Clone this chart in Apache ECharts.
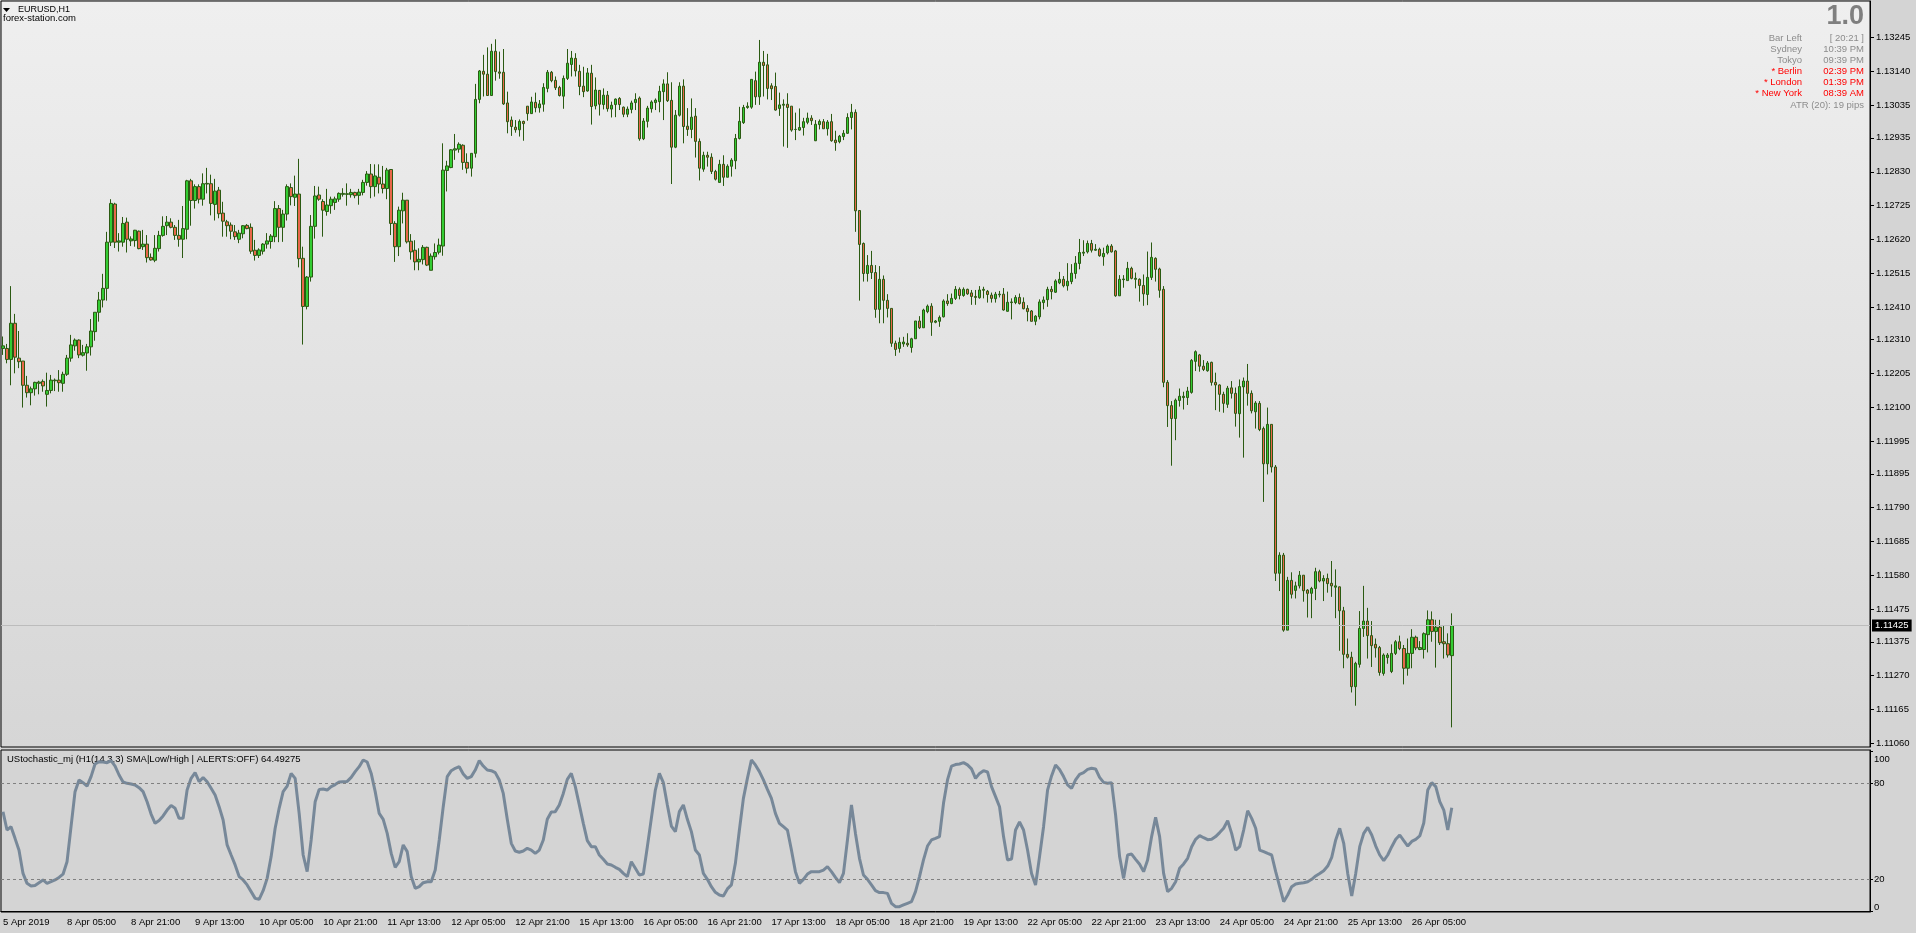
<!DOCTYPE html>
<html>
<head>
<meta charset="utf-8">
<title>EURUSD,H1</title>
<script src="https://cdn.jsdelivr.net/npm/echarts@6/dist/echarts.min.js"></script>
<style>
  html, body { margin: 0; padding: 0; background: #d4d4d4; }
  #chart { width: 1916px; height: 933px; }
</style>
</head>
<body>
<div id="chart"></div>
<script>
  // EURUSD H1 bars, 5 Apr 2019 13:00 .. 26 Apr 2019 15:00 (broker time)
  var opens = [
    1.12283,1.12283,1.12249,1.12361,1.12253,1.12244,1.12169,1.12146,1.12158,1.12175,
    1.12181,1.12141,1.12153,1.12183,1.12185,1.12175,1.12203,1.12253,1.12291,1.12309,
    1.12262,1.12269,1.12288,1.12335,1.12395,1.12433,1.12469,1.12612,1.12730,1.12612,
    1.12612,1.12674,1.12616,1.12617,1.12646,1.12598,1.12606,1.12565,1.12556,1.12592,
    1.12633,1.12663,1.12674,1.12658,1.12633,1.12621,1.12652,1.12802,1.12741,1.12784,
    1.12745,1.12792,1.12793,1.12729,1.12773,1.12702,1.12675,1.12665,1.12644,1.12621,
    1.12638,1.12664,1.12658,1.12587,1.12571,1.12584,1.12606,1.12614,1.12629,1.12716,
    1.12658,1.12699,1.12781,1.12751,1.12761,1.12562,1.12413,1.12504,1.12661,1.12758,
    1.12738,1.12707,1.12725,1.12735,1.12745,1.12760,1.12760,1.12759,1.12766,1.12757,
    1.12766,1.12797,1.12823,1.12784,1.12813,1.12792,1.12778,1.12837,1.12670,1.12598,
    1.12709,1.12742,1.12615,1.12587,1.12551,1.12558,1.12596,1.12525,1.12567,1.12581,
    1.12600,1.12834,1.12843,1.12897,1.12900,1.12912,1.12859,1.12841,1.12887,1.13054,
    1.13141,1.13132,1.13066,1.13203,1.13139,1.13138,1.13043,1.12990,1.12968,1.12960,
    1.12986,1.13033,1.13010,1.13045,1.13028,1.13039,1.13088,1.13138,1.13113,1.13091,
    1.13064,1.13119,1.13162,1.13181,1.13141,1.13095,1.13080,1.13135,1.13034,1.13082,
    1.13038,1.13067,1.13024,1.13038,1.13057,1.13030,1.13008,1.13023,1.13044,1.13058,
    1.12932,1.12986,1.13025,1.13044,1.13047,1.13078,1.13102,1.13051,1.12906,1.13005,
    1.13095,1.12971,1.12961,1.13002,1.12924,1.12838,1.12881,1.12875,1.12831,1.12797,
    1.12853,1.12813,1.12847,1.12864,1.12933,1.12982,1.13029,1.13030,1.13112,1.13062,
    1.13169,1.13161,1.13096,1.13094,1.13026,1.13036,1.13039,1.13033,1.12961,1.12959,
    1.12967,1.12983,1.12996,1.12926,1.12976,1.12985,1.12963,1.12985,1.12928,1.12923,
    1.12939,1.12949,1.12998,1.13014,1.12710,1.12608,1.12515,1.12540,1.12518,1.12404,
    1.12497,1.12432,1.12407,1.12299,1.12283,1.12297,1.12299,1.12286,1.12313,1.12368,
    1.12347,1.12397,1.12414,1.12364,1.12367,1.12381,1.12430,1.12422,1.12438,1.12466,
    1.12447,1.12466,1.12455,1.12444,1.12440,1.12463,1.12460,1.12448,1.12437,1.12449,
    1.12451,1.12398,1.12425,1.12425,1.12441,1.12426,1.12407,1.12399,1.12367,1.12381,
    1.12425,1.12434,1.12466,1.12457,1.12486,1.12497,1.12477,1.12490,1.12515,1.12546,
    1.12578,1.12582,1.12608,1.12587,1.12590,1.12567,1.12579,1.12600,1.12585,1.12446,
    1.12496,1.12493,1.12531,1.12497,1.12497,1.12478,1.12450,1.12503,1.12562,1.12529,
    1.12466,1.12178,1.12106,1.12066,1.12122,1.12131,1.12131,1.12147,1.12243,1.12263,
    1.12228,1.12214,1.12240,1.12178,1.12170,1.12141,1.12110,1.12161,1.12144,1.12081,
    1.12164,1.12182,1.12144,1.12087,1.12113,1.12035,1.11926,1.12048,1.11916,1.11587,
    1.11643,1.11411,1.11565,1.11534,1.11548,1.11581,1.11535,1.11525,1.11540,1.11592,
    1.11563,1.11571,1.11556,1.11544,1.11545,1.11471,1.11336,1.11327,1.11236,1.11305,
    1.11416,1.11439,1.11394,1.11367,1.11357,1.11277,1.11326,1.11283,1.11339,1.11375,
    1.11354,1.11293,1.11339,1.11389,1.11351,1.11351,1.11397,1.11443,1.11407,1.11420,
    1.11375,1.11369,1.11332
  ];
  var highs = [
    1.12320,1.12297,1.12476,1.12390,1.12337,1.12244,1.12198,1.12165,1.12180,1.12183,
    1.12187,1.12208,1.12201,1.12190,1.12216,1.12211,1.12263,1.12325,1.12314,1.12311,
    1.12294,1.12297,1.12374,1.12395,1.12458,1.12514,1.12644,1.12745,1.12734,1.12640,
    1.12690,1.12688,1.12630,1.12650,1.12648,1.12650,1.12634,1.12577,1.12634,1.12647,
    1.12692,1.12693,1.12686,1.12665,1.12681,1.12724,1.12805,1.12808,1.12791,1.12791,
    1.12825,1.12842,1.12821,1.12808,1.12783,1.12737,1.12681,1.12673,1.12665,1.12650,
    1.12665,1.12668,1.12670,1.12619,1.12593,1.12609,1.12640,1.12637,1.12739,1.12727,
    1.12712,1.12791,1.12794,1.12818,1.12870,1.12598,1.12507,1.12696,1.12786,1.12784,
    1.12745,1.12777,1.12753,1.12753,1.12766,1.12779,1.12794,1.12777,1.12768,1.12777,
    1.12805,1.12832,1.12854,1.12853,1.12853,1.12848,1.12842,1.12837,1.12677,1.12722,
    1.12765,1.12742,1.12637,1.12618,1.12593,1.12603,1.12598,1.12577,1.12608,1.12623,
    1.12918,1.12864,1.12900,1.12947,1.12921,1.12915,1.12887,1.12887,1.13102,1.13145,
    1.13192,1.13215,1.13226,1.13240,1.13202,1.13210,1.13078,1.13001,1.12990,1.12992,
    1.12988,1.13033,1.13062,1.13075,1.13052,1.13104,1.13145,1.13142,1.13125,1.13096,
    1.13128,1.13210,1.13204,1.13197,1.13161,1.13155,1.13151,1.13161,1.13122,1.13083,
    1.13088,1.13080,1.13047,1.13057,1.13061,1.13032,1.13032,1.13050,1.13073,1.13063,
    1.12996,1.13034,1.13051,1.13057,1.13096,1.13116,1.13138,1.13107,1.13021,1.13107,
    1.13116,1.13027,1.13057,1.13027,1.12933,1.12892,1.12892,1.12887,1.12836,1.12867,
    1.12881,1.12853,1.12872,1.12947,1.13031,1.13037,1.13045,1.13116,1.13140,1.13238,
    1.13204,1.13195,1.13104,1.13137,1.13075,1.13054,1.13073,1.13033,1.13013,1.13026,
    1.12997,1.13013,1.13005,1.12990,1.12992,1.12993,1.12990,1.13009,1.12957,1.12944,
    1.12959,1.13011,1.13040,1.13023,1.12710,1.12611,1.12572,1.12585,1.12541,1.12538,
    1.12509,1.12451,1.12407,1.12307,1.12317,1.12319,1.12330,1.12316,1.12368,1.12383,
    1.12406,1.12419,1.12423,1.12371,1.12385,1.12435,1.12451,1.12453,1.12476,1.12472,
    1.12472,1.12468,1.12464,1.12464,1.12476,1.12474,1.12464,1.12456,1.12458,1.12461,
    1.12470,1.12459,1.12438,1.12448,1.12453,1.12441,1.12417,1.12402,1.12386,1.12435,
    1.12444,1.12474,1.12476,1.12497,1.12520,1.12507,1.12547,1.12544,1.12569,1.12622,
    1.12618,1.12617,1.12619,1.12606,1.12595,1.12595,1.12605,1.12606,1.12588,1.12510,
    1.12510,1.12551,1.12536,1.12518,1.12500,1.12512,1.12583,1.12611,1.12565,1.12533,
    1.12476,1.12185,1.12120,1.12128,1.12159,1.12149,1.12164,1.12250,1.12277,1.12266,
    1.12247,1.12244,1.12242,1.12208,1.12172,1.12149,1.12167,1.12182,1.12162,1.12187,
    1.12193,1.12235,1.12153,1.12120,1.12120,1.12041,1.12100,1.12048,1.11922,1.11652,
    1.11650,1.11576,1.11590,1.11561,1.11594,1.11581,1.11538,1.11545,1.11604,1.11598,
    1.11581,1.11586,1.11625,1.11599,1.11546,1.11483,1.11385,1.11344,1.11313,1.11470,
    1.11548,1.11480,1.11439,1.11385,1.11362,1.11339,1.11340,1.11367,1.11380,1.11394,
    1.11365,1.11385,1.11414,1.11394,1.11377,1.11404,1.11472,1.11469,1.11443,1.11443,
    1.11426,1.11401,1.11463
  ];
  var lows = [
    1.12263,1.12237,1.12169,1.12206,1.12222,1.12100,1.12131,1.12107,1.12137,1.12141,
    1.12149,1.12103,1.12144,1.12151,1.12149,1.12149,1.12198,1.12242,1.12276,1.12253,
    1.12258,1.12214,1.12261,1.12307,1.12366,1.12410,1.12431,1.12600,1.12594,1.12583,
    1.12598,1.12580,1.12600,1.12598,1.12590,1.12588,1.12549,1.12555,1.12550,1.12583,
    1.12629,1.12634,1.12655,1.12619,1.12598,1.12563,1.12621,1.12663,1.12716,1.12732,
    1.12725,1.12763,1.12695,1.12679,1.12686,1.12629,1.12629,1.12621,1.12619,1.12609,
    1.12624,1.12652,1.12576,1.12555,1.12563,1.12574,1.12592,1.12592,1.12612,1.12612,
    1.12613,1.12679,1.12726,1.12724,1.12534,1.12295,1.12404,1.12490,1.12623,1.12740,
    1.12629,1.12694,1.12700,1.12712,1.12737,1.12753,1.12725,1.12750,1.12748,1.12728,
    1.12757,1.12787,1.12748,1.12753,1.12763,1.12763,1.12745,1.12634,1.12551,1.12569,
    1.12670,1.12608,1.12558,1.12525,1.12525,1.12543,1.12538,1.12525,1.12558,1.12574,
    1.12570,1.12769,1.12841,1.12867,1.12889,1.12836,1.12825,1.12815,1.12874,1.13042,
    1.13063,1.13066,1.13066,1.13112,1.13118,1.13037,1.12949,1.12941,1.12951,1.12939,
    1.12926,1.12988,1.13009,1.13014,1.13013,1.13016,1.13076,1.13107,1.13083,1.13063,
    1.13025,1.13114,1.13125,1.13125,1.13067,1.13061,1.13078,1.12976,1.13023,1.13004,
    1.13023,1.13016,1.12998,1.12999,1.13021,1.12999,1.12999,1.13011,1.13021,1.12926,
    1.12928,1.12967,1.13013,1.13021,1.13014,1.12990,1.13046,1.12792,1.12903,1.13001,
    1.12918,1.12941,1.12934,1.12874,1.12803,1.12830,1.12846,1.12823,1.12803,1.12796,
    1.12786,1.12813,1.12815,1.12838,1.12930,1.12978,1.13025,1.13025,1.13037,1.13037,
    1.13063,1.13054,1.13052,1.13019,1.13003,1.12908,1.12904,1.12954,1.12928,1.12957,
    1.12942,1.12977,1.12975,1.12925,1.12961,1.12963,1.12942,1.12923,1.12895,1.12918,
    1.12928,1.12947,1.12961,1.12644,1.12431,1.12490,1.12490,1.12498,1.12378,1.12361,
    1.12361,1.12379,1.12288,1.12260,1.12270,1.12288,1.12288,1.12270,1.12313,1.12343,
    1.12347,1.12392,1.12322,1.12361,1.12350,1.12379,1.12415,1.12420,1.12433,1.12435,
    1.12443,1.12449,1.12418,1.12418,1.12437,1.12438,1.12425,1.12425,1.12425,1.12441,
    1.12400,1.12397,1.12373,1.12420,1.12419,1.12404,1.12367,1.12367,1.12355,1.12373,
    1.12404,1.12412,1.12435,1.12455,1.12482,1.12472,1.12462,1.12482,1.12499,1.12528,
    1.12569,1.12577,1.12580,1.12585,1.12567,1.12539,1.12574,1.12580,1.12443,1.12446,
    1.12471,1.12493,1.12497,1.12469,1.12428,1.12415,1.12417,1.12495,1.12490,1.12440,
    1.12163,1.12040,1.11920,1.11999,1.12103,1.12094,1.12108,1.12143,1.12213,1.12211,
    1.12213,1.12211,1.12168,1.12092,1.12087,1.12084,1.12099,1.12128,1.12041,1.12007,
    1.11945,1.12106,1.12082,1.12035,1.12027,1.11808,1.11893,1.11899,1.11563,1.11532,
    1.11406,1.11411,1.11509,1.11509,1.11540,1.11499,1.11450,1.11448,1.11504,1.11559,
    1.11501,1.11527,1.11514,1.11448,1.11347,1.11293,1.11323,1.11218,1.11177,1.11295,
    1.11390,1.11323,1.11297,1.11326,1.11270,1.11270,1.11307,1.11278,1.11334,1.11349,
    1.11243,1.11270,1.11293,1.11349,1.11349,1.11323,1.11342,1.11375,1.11295,1.11365,
    1.11323,1.11326,1.11110
  ];
  var closes = [
    1.12291,1.12249,1.12361,1.12256,1.12242,1.12169,1.12146,1.12158,1.12178,1.12179,
    1.12167,1.12153,1.12185,1.12185,1.12177,1.12203,1.12253,1.12294,1.12309,1.12263,
    1.12270,1.12288,1.12337,1.12395,1.12433,1.12469,1.12612,1.12732,1.12612,1.12616,
    1.12670,1.12621,1.12622,1.12649,1.12592,1.12606,1.12564,1.12557,1.12593,1.12633,
    1.12661,1.12674,1.12658,1.12633,1.12621,1.12654,1.12802,1.12741,1.12784,1.12745,
    1.12793,1.12794,1.12732,1.12770,1.12700,1.12677,1.12663,1.12646,1.12629,1.12640,
    1.12663,1.12654,1.12584,1.12571,1.12588,1.12606,1.12616,1.12631,1.12716,1.12658,
    1.12699,1.12784,1.12753,1.12761,1.12561,1.12413,1.12504,1.12661,1.12755,1.12745,
    1.12711,1.12727,1.12745,1.12746,1.12763,1.12763,1.12762,1.12766,1.12756,1.12767,
    1.12797,1.12823,1.12784,1.12817,1.12792,1.12778,1.12835,1.12670,1.12598,1.12711,
    1.12742,1.12613,1.12582,1.12551,1.12559,1.12596,1.12541,1.12569,1.12580,1.12603,
    1.12835,1.12848,1.12898,1.12901,1.12915,1.12859,1.12841,1.12887,1.13054,1.13142,
    1.13132,1.13066,1.13203,1.13140,1.13135,1.13040,1.12985,1.12970,1.12960,1.12986,
    1.12979,1.13010,1.13046,1.13028,1.13040,1.13091,1.13138,1.13112,1.13090,1.13066,
    1.13119,1.13166,1.13182,1.13142,1.13094,1.13078,1.13136,1.13032,1.13083,1.13039,
    1.13067,1.13025,1.13036,1.13055,1.13038,1.13008,1.13024,1.13043,1.13054,1.12932,
    1.12987,1.13027,1.13046,1.13052,1.13079,1.13102,1.13050,1.12906,1.13005,1.13095,
    1.12970,1.12961,1.12999,1.12924,1.12841,1.12881,1.12875,1.12831,1.12807,1.12853,
    1.12813,1.12847,1.12866,1.12933,1.12986,1.13029,1.13033,1.13116,1.13062,1.13169,
    1.13159,1.13088,1.13087,1.13021,1.13037,1.13039,1.13029,1.12959,1.12961,1.12967,
    1.12985,1.12996,1.12988,1.12977,1.12986,1.12963,1.12984,1.12926,1.12920,1.12940,
    1.12949,1.12998,1.13014,1.12709,1.12605,1.12515,1.12540,1.12518,1.12404,1.12497,
    1.12432,1.12407,1.12299,1.12280,1.12302,1.12303,1.12294,1.12313,1.12368,1.12347,
    1.12402,1.12414,1.12364,1.12368,1.12379,1.12430,1.12422,1.12438,1.12466,1.12447,
    1.12466,1.12452,1.12444,1.12441,1.12464,1.12466,1.12450,1.12438,1.12451,1.12451,
    1.12402,1.12426,1.12427,1.12441,1.12422,1.12406,1.12397,1.12367,1.12383,1.12427,
    1.12433,1.12466,1.12459,1.12492,1.12497,1.12477,1.12491,1.12516,1.12547,1.12580,
    1.12581,1.12608,1.12587,1.12590,1.12570,1.12577,1.12600,1.12582,1.12446,1.12497,
    1.12498,1.12531,1.12500,1.12500,1.12478,1.12452,1.12503,1.12565,1.12528,1.12463,
    1.12178,1.12106,1.12066,1.12123,1.12135,1.12135,1.12151,1.12246,1.12273,1.12228,
    1.12218,1.12238,1.12178,1.12170,1.12141,1.12113,1.12160,1.12144,1.12082,1.12165,
    1.12182,1.12144,1.12090,1.12114,1.12032,1.11926,1.12048,1.11916,1.11587,1.11643,
    1.11411,1.11565,1.11522,1.11548,1.11581,1.11533,1.11525,1.11540,1.11592,1.11563,
    1.11571,1.11555,1.11548,1.11548,1.11471,1.11336,1.11327,1.11236,1.11308,1.11416,
    1.11439,1.11394,1.11363,1.11356,1.11280,1.11334,1.11334,1.11339,1.11375,1.11354,
    1.11293,1.11339,1.11389,1.11356,1.11357,1.11400,1.11443,1.11407,1.11420,1.11372,
    1.11369,1.11334,1.11425
  ];
  // UStochastic_mj main line (14,3,3 SMA, Low/High)
  var stoch = [
    62, 50.6, 52.7, 45.4, 38, 23.5, 17.3, 15.6, 16, 17.7,
    19.4, 17.3, 18.3, 19.4, 21, 23, 30.8, 52.7, 74.6, 81.9,
    80.2, 78.1, 84, 91.9, 93.3, 93.1, 92.7, 94, 90.6, 85,
    80.6, 79.8, 79.4, 78.8, 77.1, 74.6, 68.3, 60.6, 54.8, 56.5,
    59.4, 63.1, 66, 64.2, 57.9, 57.9, 75.6, 82.9, 86.5, 80.8,
    83.5, 80.8, 76.7, 72.5, 65.2, 56.9, 41.3, 35, 28.8, 21.5,
    19.4, 16.3, 12.1, 7.9, 7.3, 12.7, 20.4, 34, 51.7, 64.2,
    74.6, 78.1, 86, 82.9, 61, 35, 24.6, 44.4, 68.3, 76,
    76.2, 75.6, 77.7, 79, 80.6, 80.8, 81, 83.5, 87.1, 90.2,
    94.4, 93.1, 86, 74.6, 61, 57.3, 48.5, 36, 27.3, 30.8,
    41.3, 37.1, 21.5, 14.2, 15.2, 17.7, 18.3, 18.3, 25.6, 44.4,
    65.2, 84, 87.7, 89.2, 90.2, 85.6, 82.9, 84, 88.1, 94,
    90.6, 88.1, 87.7, 86.5, 81.9, 73.5, 57.3, 42.3, 37.5, 36.7,
    37.5, 39.2, 38.1, 36, 38.1, 44.4, 57.3, 61.9, 62.1, 66.3,
    73.5, 82.3, 86, 77.7, 66.3, 54.8, 44, 40.2, 40.2, 35,
    32.3, 29.4, 28.8, 27.3, 26, 23.5, 21.5, 30.8, 26.7, 22.5,
    23.1, 40.2, 57.9, 75.6, 86, 80.2, 66.3, 53.1, 49.6, 62.1,
    66.3, 57.3, 49.6, 38.1, 35, 23.5, 19.8, 15.2, 11.7, 10,
    9.4, 13.8, 16.3, 29.8, 50.6, 70.4, 82.9, 94.4, 91.3, 87.1,
    81.9, 76, 70.4, 61, 54.8, 52.7, 50.6, 38.1, 24.6, 17.3,
    19.8, 23.1, 24.6, 24.6, 24.6, 25.6, 27.7, 24.6, 21, 17.7,
    23.5, 44.4, 66.3, 48.5, 32.9, 22.5, 19.8, 16.3, 12.7, 11.5,
    11.5, 11, 4.8, 2.7, 2.7, 3.8, 4.8, 5.8, 12.1, 21.5,
    31.9, 40.6, 44.4, 45.4, 46.5, 67.3, 81.9, 90.6, 91.5, 91.9,
    92.7, 91.3, 88.8, 82.9, 86, 87.7, 86.9, 77.7, 71.5, 65.2,
    46.5, 31.9, 32.5, 50.6, 55.6, 50.6, 38.1, 23.5, 16.3, 34,
    52.7, 75.6, 84.4, 91.3, 88.5, 84, 78.8, 76.7, 81.9, 85.4,
    86.5, 88.5, 89.2, 88.8, 83.5, 80.4, 79.8, 80.2, 60, 34,
    20.4, 35, 35.6, 32.3, 29.2, 24.6, 31.9, 46.5, 58.5, 46.5,
    23.5, 12.1, 14.2, 18.3, 26.7, 29.4, 32.9, 40.2, 44.8, 47.1,
    45.8, 44.6, 44.8, 46.5, 49, 51.7, 56.5, 48.5, 38.1, 40.2,
    50.6, 62.7, 57.9, 51.7, 38.1, 37.1, 36, 35, 24.6, 15.2,
    5.8, 10, 15.2, 16.9, 17.3, 17.7, 18.3, 19.8, 21.9, 23.5,
    25.2, 28.1, 33.5, 44.4, 51.7, 42.3, 23.5, 9.4, 23.5, 40.2,
    48.5, 52.3, 47.5, 40.6, 35, 31.5, 35, 40.2, 44.8, 47.5,
    44, 40.6, 43.5, 44.8, 46.9, 55, 75.6, 80.2, 77.7, 68.3,
    63.1, 50.6, 64.49275
  ];
  var priceTicks = ['1.11060', '1.11165', '1.11270', '1.11375', '1.11475', '1.11580', '1.11685',
    '1.11790', '1.11895', '1.11995', '1.12100', '1.12205', '1.12310', '1.12410', '1.12515',
    '1.12620', '1.12725', '1.12830', '1.12935', '1.13035', '1.13140', '1.13245'];
  var stochTicks = [0, 20, 80, 100];
  var stochLevels = [20, 80];
  var infoRows = [
    ['Bar Left', '[ 20:21 ]'],
    ['Sydney', '10:39 PM'],
    ['Tokyo', '09:39 PM'],
    ['* Berlin', '02:39 PM'],
    ['* London', '01:39 PM'],
    ['* New York', '08:39 AM']
  ];
  var atrText = 'ATR (20): 19 pips';

  var slots = 467;       // bars that fit the window at this zoom level
  var labelStep = 16;    // MT4 puts a time label every 16 bars here
  var months = ['Jan', 'Feb', 'Mar', 'Apr', 'May', 'Jun', 'Jul', 'Aug', 'Sep', 'Oct', 'Nov', 'Dec'];

  // hourly bars, market closed over the weekend
  var categories = [];
  var t = Date.UTC(2019, 3, 5, 13);
  while (categories.length < closes.length) {
    var d = new Date(t);
    var wd = d.getUTCDay();
    if (wd !== 0 && wd !== 6) {
      var hh = d.getUTCHours();
      if (categories.length === 0) {
        categories.push(d.getUTCDate() + ' ' + months[d.getUTCMonth()] + ' ' + d.getUTCFullYear());
      } else {
        categories.push(d.getUTCDate() + ' ' + months[d.getUTCMonth()] + ' ' + (hh < 10 ? '0' : '') + hh + ':00');
      }
    }
    t += 3600000;
  }
  while (categories.length < slots) categories.push('');

  var candles = closes.map(function (c, i) {
    return [opens[i], c, lows[i], highs[i]];
  });
  var lastPrice = closes[closes.length - 1];

  function labelAt(idx, val) {
    return val !== '' && idx % labelStep === 0;
  }

  var font = 'Liberation Sans';
  var infoGray = '#8c8c8c';
  var graphics = [
    { type: 'polygon', shape: { points: [[3, 8], [10, 8], [6.5, 12]] }, style: { fill: '#000' } },
    { type: 'text', left: 18, top: 5, style: { text: 'EURUSD,H1', font: '9px "' + font + '"', fill: '#000' } },
    { type: 'text', left: 3, top: 13, style: { text: 'forex-station.com', font: '9.5px "' + font + '"', fill: '#000' } },
    { type: 'text', right: 52, top: 3, style: { text: '1.0', font: 'bold 27px "' + font + '"', fill: '#7f7f7f' } },
    { type: 'text', left: 7, top: 754,
      style: { text: 'UStochastic_mj (H1(14,3,3) SMA|Low/High | ALERTS:OFF) ' + stoch[stoch.length - 1].toFixed(5),
        font: '9.5px "' + font + '"', fill: '#000' } }
  ];
  infoRows.forEach(function (row, i) {
    var col = row[0].charAt(0) === '*' ? '#ff0000' : infoGray;
    graphics.push({ type: 'text', right: 114, top: 33 + i * 11, style: { text: row[0], font: '9.5px "' + font + '"', fill: col } });
    graphics.push({ type: 'text', right: 52, top: 33 + i * 11, style: { text: row[1], font: '9.5px "' + font + '"', fill: col } });
  });
  graphics.push({ type: 'text', right: 52, top: 100, style: { text: atrText, font: '9.5px "' + font + '"', fill: infoGray } });

  var chart = echarts.init(document.getElementById('chart'));
  chart.setOption({
    animation: false,
    backgroundColor: '#d4d4d4',
    textStyle: { fontFamily: font },
    grid: [
      {
        left: 1, right: 46, top: 1, height: 746, show: true,
        borderColor: '#000', borderWidth: 1,
        backgroundColor: new echarts.graphic.LinearGradient(0, 0, 0, 1, [
          { offset: 0, color: '#efefef' },
          { offset: 1, color: '#d6d6d6' }
        ])
      },
      {
        left: 1, right: 46, top: 750, height: 162, show: true,
        borderColor: '#000', borderWidth: 1, backgroundColor: '#d4d4d4'
      }
    ],
    xAxis: [
      { type: 'category', gridIndex: 0, data: categories, boundaryGap: true, show: false },
      {
        type: 'category', gridIndex: 1, data: categories, boundaryGap: true,
        axisLine: { lineStyle: { color: '#000' } },
        axisTick: { alignWithLabel: true, length: 3, interval: labelAt, lineStyle: { color: '#000' } },
        axisLabel: { interval: labelAt, align: 'left', margin: 5, color: '#000', fontSize: 9.5, fontFamily: font },
        splitLine: { show: false }
      }
    ],
    yAxis: [
      {
        type: 'value', gridIndex: 0, position: 'right', min: 1.110492, max: 1.133586,
        axisLine: { show: true, lineStyle: { color: '#000' } },
        axisTick: { show: true, length: 4, customValues: priceTicks.map(Number), lineStyle: { color: '#000' } },
        axisLabel: {
          customValues: priceTicks.map(Number), margin: 6, color: '#000', fontSize: 9.5, fontFamily: font,
          formatter: function (v) { return v.toFixed(5); }
        },
        splitLine: { show: false }
      },
      {
        type: 'value', gridIndex: 1, position: 'right', min: -0.625, max: 100.625,
        axisLine: { show: true, lineStyle: { color: '#000' } },
        axisTick: { show: true, length: 3, customValues: stochTicks, lineStyle: { color: '#000' } },
        axisLabel: {
          customValues: stochTicks, margin: 4, color: '#000', fontSize: 9.5, fontFamily: font,
          formatter: function (v) {
            if (v === 100) return '{top|100}';
            if (v === 0) return '{bot|0}';
            return String(v);
          },
          rich: {
            top: { padding: [16, 0, 0, 0], fontSize: 9.5, fontFamily: font, color: '#000' },
            bot: { padding: [0, 0, 8, 0], fontSize: 9.5, fontFamily: font, color: '#000' }
          }
        },
        splitLine: { show: false }
      }
    ],
    series: [
      {
        type: 'candlestick', xAxisIndex: 0, yAxisIndex: 0, data: candles, barWidth: 3,
        itemStyle: {
          color: '#33cc33', color0: '#e8674a',
          borderColor: '#2b5a12', borderColor0: '#2b5a12', borderWidth: 1
        },
        markLine: {
          symbol: 'none', silent: true, animation: false, precision: 5,
          lineStyle: { color: '#bcbcbc', width: 1, type: 'solid' },
          label: {
            show: true, position: 'end', distance: 2, color: '#fff', backgroundColor: '#000',
            padding: [1, 3], fontSize: 9.5, fontFamily: font,
            formatter: function () { return lastPrice.toFixed(5); }
          },
          data: [{ yAxis: lastPrice }]
        }
      },
      {
        type: 'line', xAxisIndex: 1, yAxisIndex: 1, data: stoch, showSymbol: false,
        lineStyle: { color: '#778899', width: 3 },
        markLine: {
          symbol: 'none', silent: true, animation: false,
          lineStyle: { color: '#808080', width: 1, type: [3, 3] },
          label: { show: false },
          data: stochLevels.map(function (v) { return { yAxis: v }; })
        }
      }
    ],
    graphic: graphics
  });
</script>
</body>
</html>
